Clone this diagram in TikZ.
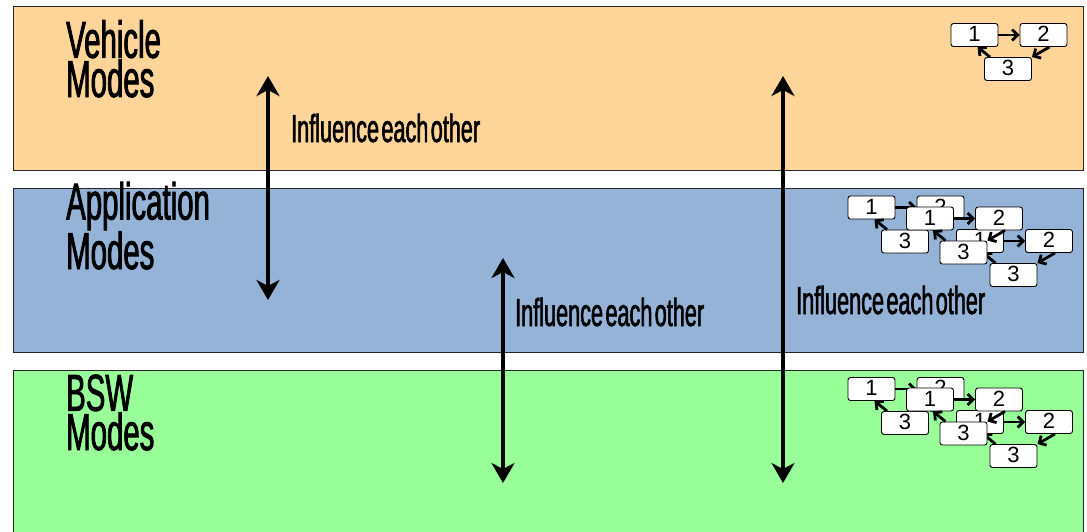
\documentclass[tikz,border=0pt]{standalone}
\usepackage{fontspec}
\setmainfont{Liberation Sans}
\newfontfamily\squeeze[FakeStretch=0.565,FakeBold=1.5]{Liberation Sans}
\newfontfamily\squeezeb[FakeStretch=0.555,FakeBold=1.5,WordSpace=0.4]{Liberation Sans}
\usetikzlibrary{arrows.meta}
\definecolor{vehband}{RGB}{253,213,153}
\definecolor{appband}{RGB}{149,179,215}
\definecolor{bswband}{RGB}{153,255,153}
\tikzset{
  band/.style={draw=black!85, line width=0.9pt},
  title/.style={anchor=base west, inner sep=0pt, align=left,
    font=\squeeze\fontsize{52}{35}\selectfont},
  inflabel/.style={anchor=base west, inner sep=0pt,
    font=\squeezeb\fontsize{39}{39}\selectfont},
  bigarrow/.style={line width=4pt, {Stealth[length=20pt,width=23pt,inset=6pt]}-{Stealth[length=20pt,width=23pt,inset=6pt]}},
  mbox/.style={draw=black, line width=0.9pt, fill=white, rounded corners=2.5pt,
    minimum width=47pt, minimum height=23pt, inner sep=0pt,
    font=\fontsize{22}{22}\selectfont},
  marr/.style={line width=2.8pt, -{Straight Barb[length=5.5pt,width=11pt]}},
  modegraph/.pic={
    \node[mbox] (-a) at (0,0) {\raisebox{2pt}{1}};
    \node[mbox] (-b) at (69,0) {\raisebox{2pt}{2}};
    \node[mbox] (-c) at (33.5,34) {\raisebox{2pt}{3}};
    \draw[marr] (-a.east) -- (-b.west);
    \draw[marr] ([xshift=6pt]-b.south) -- (-c.north east);
    \draw[marr] ([xshift=6pt]-c.north west) -- ([xshift=3pt]-a.south);
  }
}
\begin{document}
\begin{tikzpicture}[x=1pt,y=-1pt]
\useasboundingbox (0,0) rectangle (1087,531);
\clip (0,0) rectangle (1087,531);
% bands
\fill[white] (0,0) rectangle (1087,531);
\draw[band, fill=vehband] (13,6) rectangle (1083,170);
\draw[band, fill=appband] (13,188) rectangle (1083,352);
\draw[band, fill=bswband] (13,370) rectangle (1083,545);
% titles (anchor = baseline of the last line)
\node[title] (veh) at (66,97) {Vehicle\\Modes};
\node[title] (app) at (66,269) {Application\\Modes};
\node[title] (bsw) at (66,450) {BSW\\Modes};
% arrows
\coordinate (a1t) at (268,76);
\coordinate (a1b) at (268,300);
\coordinate (a2t) at (503,258);
\coordinate (a2b) at (503,483);
\coordinate (a3t) at (783,76);
\coordinate (a3b) at (783,483);
\draw[bigarrow] (a1t) -- (a1b);
\draw[bigarrow] (a2t) -- (a2b);
\draw[bigarrow] (a3t) -- (a3b);
\node[inflabel] (l1) at (291,142) {Influence each other};
\node[inflabel] (l2) at (515,326) {Influence each other};
\node[inflabel] (l3) at (796,314) {Influence each other};
% mode graphs
\pic (g0) at (974.5,35) {modegraph};
\pic (ga) at (871.5,207.5) {modegraph};
\pic (gc) at (980,241) {modegraph};
\pic (gb) at (930,218.5) {modegraph};
\pic (hA) at (871.5,389) {modegraph};
\pic (hC) at (980,422) {modegraph};
\pic (hB) at (930,399.5) {modegraph};
\end{tikzpicture}
\end{document}
